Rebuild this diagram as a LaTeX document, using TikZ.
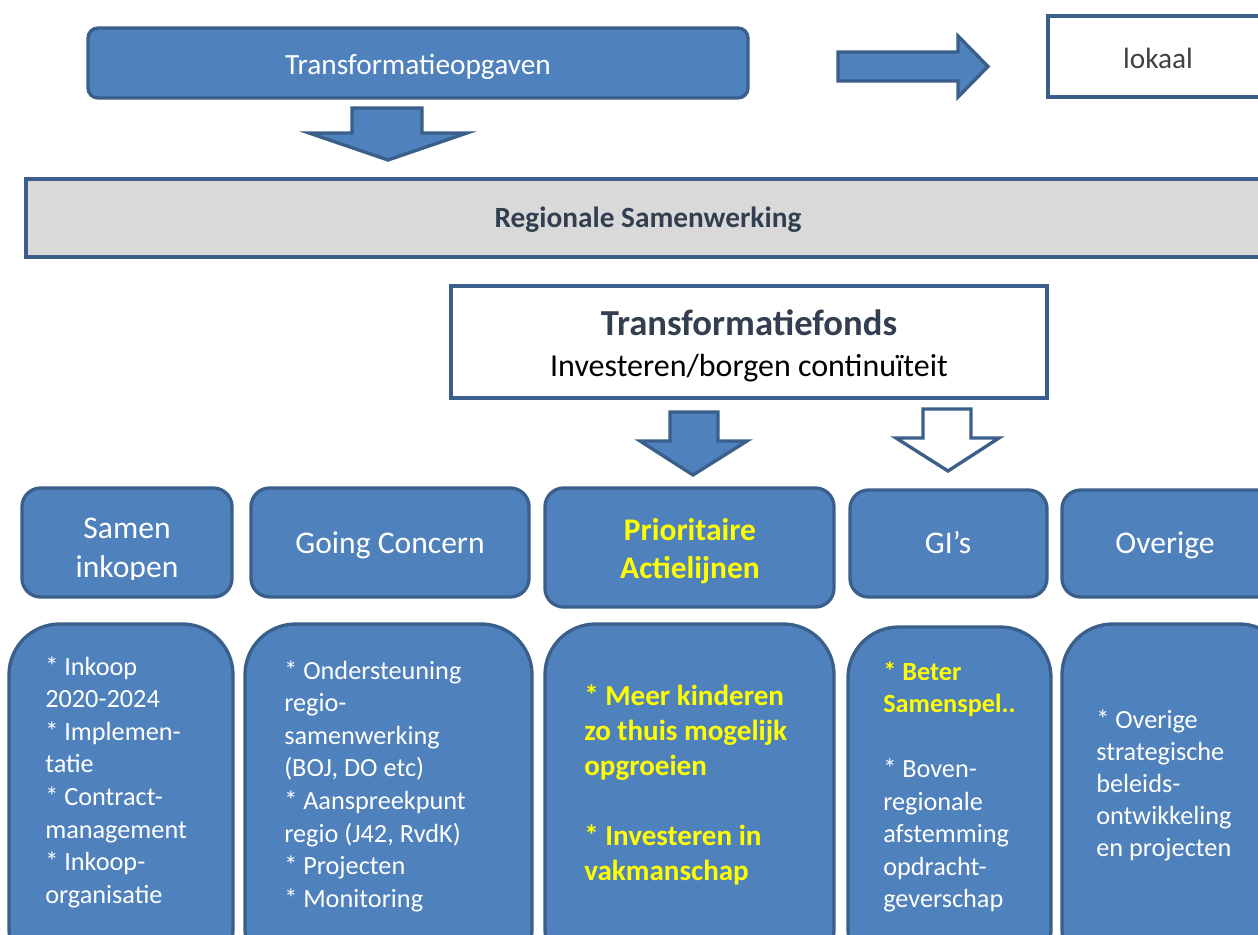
\documentclass[tikz,border=0pt]{standalone}
\usepackage{fontspec}
\setmainfont{Carlito}
\definecolor{fillblue}{HTML}{4F81BD}
\definecolor{edgeblue}{HTML}{3A5F8B}
\definecolor{bargray}{HTML}{D9D9D9}
\definecolor{darktext}{HTML}{333F50}
\definecolor{yel}{HTML}{FFFF00}
\definecolor{graytext}{HTML}{404040}
\tikzset{
  bluebox/.style={draw=edgeblue, fill=fillblue, line width=2.5pt, inner sep=0pt, rounded corners=#1},
  whitebox/.style={draw=edgeblue, fill=white, line width=2.5pt, inner sep=0pt},
  graybox/.style={draw=edgeblue, fill=bargray, line width=2.5pt, inner sep=0pt},
  blockarrow/.style={draw=edgeblue, fill=fillblue, line width=2.5pt, line join=miter},
  hollowarrow/.style={draw=edgeblue, fill=white, line width=2.5pt, line join=miter},
  ltxt/.style={inner sep=0pt, anchor=base west, text=white},
  ctxt/.style={inner sep=0pt, anchor=base},
}
\newcommand{\blockL}[3]{\parbox[t]{260pt}{\fontsize{#1}{#2}\selectfont\raggedright\leavevmode #3}}
\newcommand{\blockC}[3]{\parbox[t]{260pt}{\fontsize{#1}{#2}\selectfont\centering\leavevmode #3}}
\newcommand{\bul}{{*}}
\begin{document}
\begin{tikzpicture}[x=0.75pt, y=-0.75pt]
\useasboundingbox (0,0) rectangle (1258,935);
\clip (0,0) rectangle (1258,935);

% top row
\node[bluebox=7.5pt, minimum width=660*0.75pt, minimum height=70*0.75pt] (top) at (418,63) {};
\node[ctxt, text=white, font=\fontsize{22}{26}\selectfont] (toptxt) at (418,74) {Transformatieopgaven};
\draw[blockarrow] (838,52) -- (958,52) -- (958,36) -- (988,66.5) -- (958,97) -- (958,81) -- (838,81) -- cycle;
\node[whitebox, minimum width=222*0.75pt, minimum height=81*0.75pt] (lokaal) at (1159,56.5) {};
\node[ctxt, text=graytext, font=\fontsize{22}{26}\selectfont] (lokaaltxt) at (1158,68) {lokaal};
\draw[blockarrow] (352,108) -- (422,108) -- (422,133) -- (467,133) -- (388,160) -- (309,133) -- (352,133) -- cycle;

% regional bar
\node[graybox, minimum width=1244*0.75pt, minimum height=78*0.75pt] (bar) at (648,218) {};
\node[ctxt, text=darktext, font=\fontsize{22}{26}\selectfont\bfseries] (bartxt) at (648,227) {Regionale Samenwerking};

% fund
\node[whitebox, minimum width=596*0.75pt, minimum height=112*0.75pt] (fonds) at (749,342) {};
\node[ctxt, text=darktext, font=\fontsize{27.5}{32}\selectfont\bfseries] (fondstitle) at (749,335) {Transformatiefonds};
\node[ctxt, text=black, font=\fontsize{24}{28}\selectfont] (fondssub) at (749,376) {Investeren/borgen continuïteit};
\draw[blockarrow] (670,412) -- (718,412) -- (718,441) -- (747,441) -- (693,475) -- (640,441) -- (670,441) -- cycle;
\draw[hollowarrow] (923,409) -- (971,409) -- (971,438) -- (999,438) -- (948,471) -- (896,438) -- (923,438) -- cycle;

% header boxes
\node[bluebox=14pt, minimum width=210*0.75pt, minimum height=109*0.75pt] (h1) at (127,542.5) {};
\node[bluebox=14pt, minimum width=278*0.75pt, minimum height=109*0.75pt] (h2) at (390,542.5) {};
\node[bluebox=14pt, minimum width=289*0.75pt, minimum height=119*0.75pt] (h3) at (689.5,547.5) {};
\node[bluebox=14pt, minimum width=197*0.75pt, minimum height=107*0.75pt] (h4) at (948.5,543.5) {};
\node[bluebox=14pt, minimum width=228*0.75pt, minimum height=107*0.75pt] (h5) at (1176,543.5) {};

\begin{scope}
  \clip (22,480) rectangle (232,579);
  \node[ctxt, text=white] (h1txt) at (127,538) {\blockC{23.7}{29.25}{Samen\\inkopen}};
\end{scope}
\node[ctxt, text=white, font=\fontsize{23.7}{29}\selectfont] (h2txt) at (390,553) {Going Concern};
\node[ctxt, text=yel] (h3txt) at (690,540) {\blockC{23.6}{28.5}{\bfseries Prioritaire\\Actielijnen}};
\node[ctxt, text=white, font=\fontsize{23.7}{29}\selectfont] (h4txt) at (948,553) {GI’s};
\node[ctxt, text=white, font=\fontsize{23.7}{29}\selectfont] (h5txt) at (1165,553) {Overige};

% detail boxes
\node[bluebox=38pt, minimum width=224*0.75pt, minimum height=356*0.75pt] (d1) at (121,802) {};
\node[bluebox=38pt, minimum width=287*0.75pt, minimum height=356*0.75pt] (d2) at (388.5,802) {};
\node[bluebox=38pt, minimum width=289*0.75pt, minimum height=356*0.75pt] (d3) at (689.5,802) {};
\node[bluebox=38pt, minimum width=203*0.75pt, minimum height=353*0.75pt] (d4) at (949.5,803.5) {};
\node[bluebox=38pt, minimum width=228*0.75pt, minimum height=356*0.75pt] (d5) at (1176,802) {};

\node[ltxt] (d1txt) at (45,675) {\blockL{19.7}{24.45}{\bul{} Inkoop\\2020-2024\\\bul{} Implemen-\\tatie\\\bul{} Contract-\\management\\\bul{} Inkoop-\\organisatie}};
\node[ltxt] (d2txt) at (284,679) {\blockL{19.7}{24.45}{\bul{} Ondersteuning\\regio-\\samenwerking\\(BOJ, DO etc)\\\bul{} Aanspreekpunt\\regio (J42, RvdK)\\\bul{} Projecten\\\bul{} Monitoring}};
\node[ltxt, text=yel] (d3txt) at (584,705) {\blockL{21.8}{26.25}{\bfseries \bul{} Meer kinderen\\zo thuis mogelijk\\opgroeien\\\mbox{}\\\bul{} Investeren in\\vakmanschap}};
\node[ltxt] (d4txt) at (883,680) {\blockL{19.7}{24.4}{{\bfseries\color{yel}\bul{} Beter}\\{\bfseries\color{yel}Samenspel..}\\\mbox{}\\\bul{} Boven-\\regionale\\afstemming\\opdracht-\\geverschap}};
\node[ltxt] (d5txt) at (1096,728) {\blockL{19.7}{24}{\bul{} Overige\\strategische\\beleids-\\ontwikkeling\\en projecten}};
\end{tikzpicture}
\end{document}
